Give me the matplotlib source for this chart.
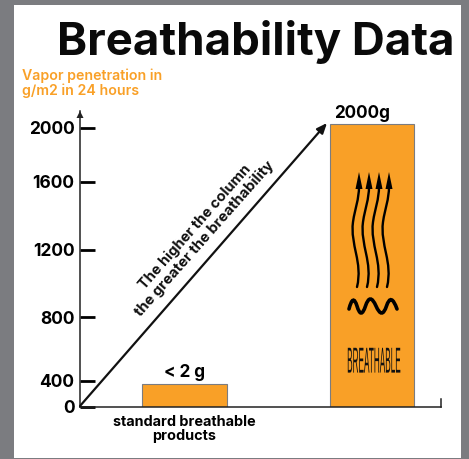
import numpy as np
import matplotlib
matplotlib.use('Agg')
import matplotlib.pyplot as plt
from matplotlib.patches import Rectangle, PathPatch, Polygon
from matplotlib.path import Path
from matplotlib.patheffects import AbstractPathEffect
from matplotlib.transforms import Affine2D

# Data
categories = ['standard breathable\nproducts', '']
values = [350, 2030]
bar_labels = ['< 2 g', '2000g']
y_ticks = [0, 400, 800, 1200, 1600, 2000]

# The axis is not linear, so ticks are mapped to their height on the picture
scale_values = [0, 400, 800, 1200, 1600, 2000, 2120]
scale_heights = [0, 26, 89.5, 156.5, 224.5, 278.5, 296]

ORANGE = '#F9A027'
GREY = '#7B7C80'
W, H = 469, 459
FONT = ['Inter', 'DejaVu Sans']


class SqueezeY(AbstractPathEffect):
    """Stretch glyphs vertically around a point"""
    def __init__(self, factor, cy):
        super().__init__()
        self.factor = factor
        self.cy = cy

    def draw_path(self, renderer, gc, tpath, affine, rgbFace=None):
        stretch = Affine2D().translate(0, -self.cy).scale(1, self.factor).translate(0, self.cy)
        renderer.draw_path(gc, tpath, affine + stretch, rgbFace)


fig = plt.figure(figsize=(W / 100, H / 100), dpi=100, facecolor=GREY)

# Pixel overlay for the white panel and the drawn decorations
bg = fig.add_axes([0, 0, 1, 1], zorder=0)
bg.set_xlim(0, W)
bg.set_ylim(H, 0)
bg.axis('off')
bg.add_patch(Rectangle((14, 5), 447, 453, color='white', lw=0))

bg.text(255.5, 42, 'Breathability Data', fontsize=32.8, fontweight='bold', family=FONT,
        ha='center', va='center', color='#0a0a0a')
bg.text(22, 83.5, 'Vapor penetration in\ng/m2 in 24 hours', fontsize=10.2, fontweight='semibold',
        family=FONT, color=ORANGE, ha='left', va='center', linespacing=1.05)

# Chart
left, right, base, top = 80, 441, 406.5, 110.5
ax = fig.add_axes([left / W, 1 - base / H, (right - left) / W, (base - top) / H], zorder=1)
ax.patch.set_alpha(0)
ax.set_yscale('function', functions=(
    lambda v: np.interp(v, scale_values, scale_heights),
    lambda h: np.interp(h, scale_heights, scale_values)))
x = np.arange(len(categories))
bars = ax.bar(x, values, width=0.453, color=ORANGE, edgecolor=GREY, linewidth=0.8)
labels = ax.bar_label(bars, labels=bar_labels, fontsize=12.3, fontweight='bold', family=FONT, padding=2)
labels[1].xyann = (-7, 1)  # the tall bar's label sits left of centre
ax.set_xlim(-0.557, 1.368)
ax.set_ylim(0, 2120)
ax.set_xticks([0], categories[:1])
ax.tick_params(axis='x', length=0, pad=6, labelsize=10.4)
ax.set_yticks(y_ticks, [str(t) for t in y_ticks])
ax.tick_params(axis='y', direction='in', length=11, width=2, pad=4, labelsize=12.5)
ax.minorticks_off()
for label in ax.get_xticklabels() + ax.get_yticklabels():
    label.set_fontweight('bold')
    label.set_family(FONT)
for label in ax.get_xticklabels():
    label.set_linespacing(1.05)
for side in ['top', 'right']:
    ax.spines[side].set_visible(False)
for side in ['left', 'bottom']:
    ax.spines[side].set_linewidth(1.1)
    ax.spines[side].set_color('#222222')

# Drawn on top of the chart
fg = fig.add_axes([0, 0, 1, 1], zorder=2)
fg.set_xlim(0, W)
fg.set_ylim(H, 0)
fg.axis('off')

# Axis ends
fg.add_patch(Polygon([(80, 111), (76.5, 118), (83.5, 118)], color='#222222', lw=0))
fg.plot([440.5, 440.5], [399, 406.5], color='#222222', lw=1.1)

# Diagonal arrow and its caption
fg.annotate('', xy=(327, 123), xytext=(80, 406),
            arrowprops=dict(arrowstyle='-|>,head_length=0.6,head_width=0.25', lw=1.6,
                            color='#111111', shrinkA=0, shrinkB=0))
fg.text(195, 227, 'The higher the column', rotation=48.5, rotation_mode='anchor', fontsize=10.6,
        fontweight='bold', family=FONT, ha='center', va='center', color='#111111')
fg.text(205, 239, 'the greater the breathability', rotation=48.5, rotation_mode='anchor', fontsize=10.7,
        fontweight='bold', family=FONT, ha='center', va='center', color='#111111')

# Wavy arrows inside the tall bar
for offset in [0, 10, 20, 30]:
    verts = [(357 + offset, 287), (363 + offset, 262), (350 + offset, 245), (353 + offset, 222),
             (355 + offset, 208), (359 + offset, 200), (359 + offset, 186)]
    codes = [Path.MOVETO] + [Path.CURVE4] * 6
    fg.add_patch(PathPatch(Path(verts, codes), fill=False, lw=1.7, ec='black', capstyle='round'))
    fg.add_patch(Polygon([(359 + offset, 172), (355.5 + offset, 189), (362.5 + offset, 189)],
                         color='black', lw=0))

# Squiggle
squiggle = [(349, 309), (353, 293), (357, 306), (361, 320), (365.5, 306),
            (370, 292), (376, 306), (382, 320), (386.5, 306), (391, 292), (397, 309)]
codes = [Path.MOVETO] + [Path.CURVE3] * (len(squiggle) - 1)
fg.add_patch(PathPatch(Path(squiggle, codes), fill=False, lw=2.6, ec='black', capstyle='round'))

# BREATHABLE is a tall condensed word
word = fg.text(373.5, 366, 'BREATHABLE', fontsize=5.9, family=['Liberation Sans', 'DejaVu Sans'],
               ha='center', va='center', color='#111111')
word.set_path_effects([SqueezeY(4.4, H - 366)])

fig.savefig('out.png', dpi=100, facecolor=fig.get_facecolor())
